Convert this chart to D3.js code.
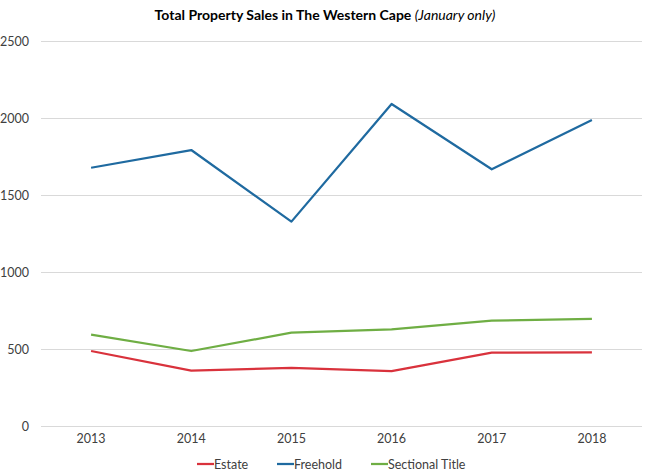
<!DOCTYPE html>
<html><head><meta charset="utf-8">
<script src="https://cdn.jsdelivr.net/npm/d3@7"></script>
<style>body{margin:0;background:#fff;} svg{display:block;font-family:Lato,"Open Sans",sans-serif;}</style>
</head><body>
<svg id="c" width="650" height="476"></svg>
<script>
const years = ["2013","2014","2015","2016","2017","2018"];
const estate = [487, 359, 377, 357, 476, 478];
const freehold = [1677, 1792, 1327, 2091, 1667, 1987];
const sectional = [593, 487, 606, 628, 684, 695];
const yTicks = [0, 500, 1000, 1500, 2000, 2500];
const seriesNames = ["Estate", "Freehold", "Sectional Title"];
const colors = ["#D9323C", "#1F6AA0", "#6FAE44"];

const series = [estate, freehold, sectional].map((v,i)=>({name:seriesNames[i], values:v, color:colors[i]}));
const svg = d3.select("#c");
const x = d3.scaleBand().domain(years).range([41, 642]);
const y = d3.scaleLinear().domain([0, 2500]).range([426, 41]);

// gridlines
svg.append("g").selectAll("line").data(yTicks).join("line")
  .attr("x1", 41).attr("x2", 642)
  .attr("y1", d=>y(d)+0.5).attr("y2", d=>y(d)+0.5)
  .attr("stroke", "#d9d9d9").attr("stroke-width", 1);

// y axis labels
const yAxis = d3.axisLeft(y).tickValues(yTicks).tickSize(0).tickPadding(0).tickFormat(d3.format("d"));
const ya = svg.append("g").attr("transform","translate(29,0)").call(yAxis);
ya.select(".domain").remove();
ya.selectAll("text").attr("fill","#404040").style("font-size","12.5px").style("font-family","Lato,'Open Sans',sans-serif");

// x axis labels
const xAxis = d3.axisBottom(x).tickSize(0).tickPadding(0);
const xa = svg.append("g").attr("transform","translate(0,434)").call(xAxis);
xa.select(".domain").remove();
xa.selectAll("text").attr("fill","#404040").style("font-size","12.5px").style("font-family","Lato,'Open Sans',sans-serif");

// lines
const line = d3.line().x((d,i)=>x(years[i])+x.bandwidth()/2).y(d=>y(d));
svg.append("g").selectAll("path").data([series[1], series[2], series[0]]).join("path")
  .attr("d", d=>line(d.values)).attr("fill","none")
  .attr("stroke", d=>d.color).attr("stroke-width", 2.25)
  .attr("stroke-linejoin","round");

// title
const t = svg.append("text").attr("x", 325).attr("y", 20).attr("text-anchor","middle")
  .attr("fill","#000").style("font-size","14px");
t.append("tspan").attr("font-weight","bold").text("Total Property Sales in The Western Cape ");
t.append("tspan").attr("font-style","italic").text("(January only)");

// legend
const legX = [197, 277, 371];
const lg = svg.append("g").selectAll("g").data(series).join("g")
  .attr("transform", (d,i)=>`translate(${legX[i]},464)`);
lg.append("line").attr("x1",0).attr("x2",17).attr("y1",0).attr("y2",0)
  .attr("stroke", d=>d.color).attr("stroke-width",2.25);
lg.append("text").attr("x",17).attr("y",4.5).attr("fill","#404040")
  .style("font-size","12.5px").text(d=>d.name);
</script>
</body></html>
